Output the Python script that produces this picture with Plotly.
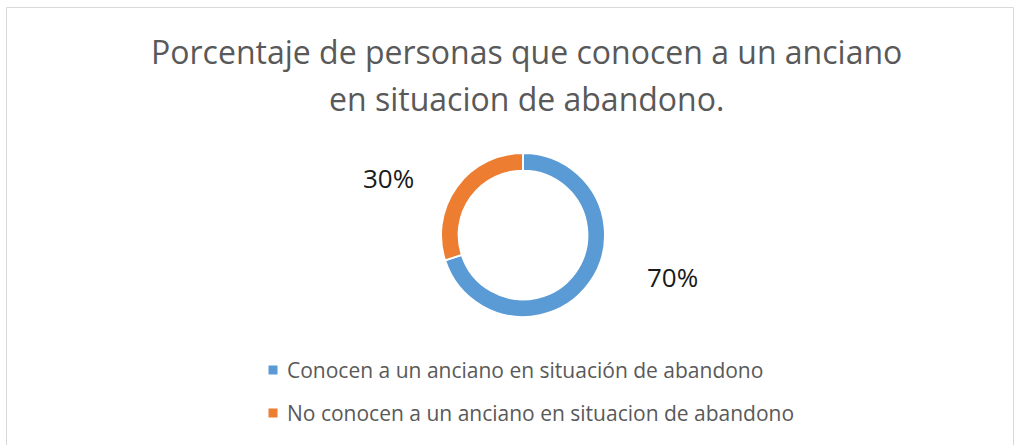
import math
import plotly.graph_objects as go

# Survey answers
labels = [
    "Conocen a un anciano en situación de abandono",
    "No conocen a un anciano en situacion de abandono",
]
values = [70, 30]
colors = ["#5B9BD5", "#ED7D31"]
title_lines = ["Porcentaje de personas que conocen a un anciano", "en situacion de abandono."]

W, H = 1014, 445
FONT = "Open Sans"

# Donut placement (pixels)
cx, cy, R = 523, 235, 82


def px(x):
    return x / W


def py(y):
    return 1 - y / H


fig = go.Figure(
    go.Pie(
        labels=labels,
        values=values,
        hole=0.785,
        sort=False,
        direction="clockwise",
        rotation=0,
        marker=dict(colors=colors, line=dict(color="white", width=2)),
        textinfo="none",
        hoverinfo="label+percent",
        showlegend=False,
        domain=dict(x=[px(cx - R), px(cx + R)], y=[py(cy + R), py(cy - R)]),
    )
)

# Percentage labels beside each slice
total = sum(values)
label_pos = [(672, 277), (388, 178)]
annotations = []
for v, (lx, ly) in zip(values, label_pos):
    annotations.append(
        dict(
            x=px(lx), y=py(ly), xref="paper", yref="paper",
            text=f"{round(100 * v / total)}%", showarrow=False,
            font=dict(family=FONT, size=26, color="#1a1a1a"),
            xanchor="center", yanchor="middle",
        )
    )

# Title
for i, line in enumerate(title_lines):
    annotations.append(
        dict(
            x=px(526), y=py(51 + 47 * i), xref="paper", yref="paper",
            text=line, showarrow=False,
            font=dict(family=FONT, size=32, color="#595959"),
            xanchor="center", yanchor="middle",
        )
    )

# Legend drawn as squares + text
shapes = []
leg_x, leg_y0, leg_dy, sq = 273, 370, 43, 9
for i, (lab, col) in enumerate(zip(labels, colors)):
    yy = leg_y0 + leg_dy * i
    shapes.append(
        dict(
            type="rect", xref="paper", yref="paper",
            x0=px(leg_x - sq / 2), x1=px(leg_x + sq / 2),
            y0=py(yy + sq / 2), y1=py(yy - sq / 2),
            fillcolor=col, line=dict(width=0),
        )
    )
    annotations.append(
        dict(
            x=px(leg_x + 12), y=py(yy), xref="paper", yref="paper",
            text=lab, showarrow=False,
            font=dict(family=FONT, size=21, color="#595959"),
            xanchor="left", yanchor="middle",
        )
    )

# Chart frame
shapes.append(
    dict(
        type="rect", xref="paper", yref="paper",
        x0=px(6.5), x1=px(1013.5), y0=py(460), y1=py(7.5),
        line=dict(color="#D9D9D9", width=1), fillcolor="rgba(0,0,0,0)",
    )
)

fig.update_layout(
    width=W, height=H,
    margin=dict(l=0, r=0, t=0, b=0),
    paper_bgcolor="white", plot_bgcolor="white",
    annotations=annotations, shapes=shapes,
)

fig.write_html("out.html")
